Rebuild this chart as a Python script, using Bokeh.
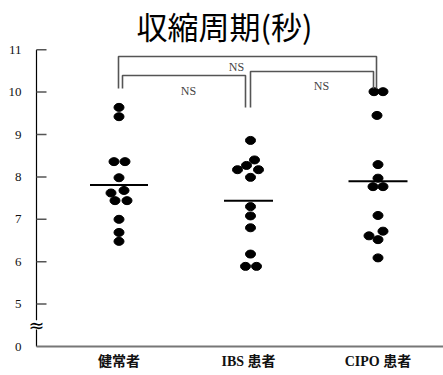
from bokeh.plotting import figure
from bokeh.models import ColumnDataSource, FixedTicker
from bokeh.core.properties import value
from bokeh.embed import file_html
from bokeh.resources import INLINE

# ---- data ----
categories = ["健常者", "IBS 患者", "CIPO 患者"]
healthy = [9.64, 9.42, 8.36, 8.36, 7.98, 7.68, 7.62, 7.44, 7.44, 7.00, 6.69, 6.48]
ibs = [8.86, 8.40, 8.27, 8.17, 8.17, 7.99, 7.30, 7.08, 6.80, 6.18, 5.89, 5.89]
cipo = [10.01, 10.01, 9.45, 8.29, 7.97, 7.77, 7.77, 7.09, 6.72, 6.61, 6.52, 6.09]
means = [7.81, 7.44, 7.90]
y_ticks = [4, 5, 6, 7, 8, 9, 10, 11]
y_tick_labels = ["0", "5", "6", "7", "8", "9", "10", "11"]
title_text = "収縮周期(秒)"
ns_text = "NS"

SERIF = "'Liberation Serif', 'Noto Sans CJK JP', serif"

# ---- layout helpers (pixels -> data along x) ----
UNIT = 129.5          # px per category step
def px2x(px):
    return 1 + (px - 118.5) / UNIT

AX = px2x(36)         # where the y axis is drawn
PX_PER_Y = 42.4
def px2y(py):
    return 4 + (346 - py) / PX_PER_Y

# horizontal jitter of the dots (layout, in pixels)
jitter_px = [
    [0, 0, -5, 6, 0, 5, -8, -4, 8, 0, 0, 0],
    [2, 6, -2, -11, 10, 2, 2, 2, 2, 2, -3, 8],
    [-4, 5, -1, 0, 0, -5, 5, 0, 5, -9, 0, 0],
]

groups = [healthy, ibs, cipo]
xs, ys = [], []
for i, (vals, jit) in enumerate(zip(groups, jitter_px)):
    for v, j in zip(vals, jit):
        xs.append(i + 1 + j / UNIT)
        ys.append(v)
src = ColumnDataSource(dict(x=xs, y=ys))

p = figure(width=443, height=375, output_backend="svg", toolbar_location=None,
           x_axis_type=None,
           x_range=(px2x(26), px2x(443)), y_range=(px2y(375), px2y(0)),
           min_border_left=26, min_border_right=0, min_border_top=0,
           min_border_bottom=0)
p.outline_line_color = None
p.grid.visible = False
p.background_fill_color = "white"

# y axis: labels from the axis, line & ticks drawn as glyphs
ya = p.yaxis[0]
ya.ticker = FixedTicker(ticks=y_ticks)
ya.major_label_overrides = {t: l for t, l in zip(y_ticks, y_tick_labels)}
ya.axis_line_color = None
ya.major_tick_line_color = None
ya.minor_tick_line_color = None
ya.major_tick_out = 0
ya.major_tick_in = 0
ya.major_label_text_font = SERIF
ya.major_label_text_font_size = "13px"
ya.major_label_text_color = "#111111"
ya.major_label_standoff = 5

brk_lo, brk_hi, brk_mid = 4.40, 4.62, 4.51
p.segment(x0=[AX, AX], x1=[AX, AX], y0=[y_ticks[0], brk_hi],
          y1=[brk_lo, y_ticks[-1]], line_color="black", line_width=1.2)
p.segment(x0=[AX] * len(y_ticks[1:]), x1=[AX + 10 / UNIT] * len(y_ticks[1:]),
          y0=y_ticks[1:], y1=y_ticks[1:], line_color="#555555", line_width=1.5)
p.text(x=[AX], y=[brk_mid], text=["≈"], text_font=value("DejaVu Sans"),
       text_font_size="19px", text_color="black", text_align="center",
       text_baseline="middle")

# x axis line & category labels
p.segment(x0=[AX], x1=[px2x(443)], y0=[y_ticks[0]], y1=[y_ticks[0]],
          line_color="#777777", line_width=2)
p.text(x=[1, 2, 3], y=[px2y(361)] * 3, text=categories,
       text_font=value(SERIF),
       text_font_style="bold", text_font_size="14px", text_color="#111111",
       text_align="center", text_baseline="middle")

# dots
p.ellipse(x="x", y="y", width=10, height=8, width_units="screen",
          height_units="screen", source=src, fill_color="black",
          line_color="black")

# mean lines
half_px = [29, 24.5, 29.5]
p.segment(x0=[i + 1 - h / UNIT for i, h in enumerate(half_px)],
          x1=[i + 1 + h / UNIT for i, h in enumerate(half_px)],
          y0=means, y1=means, line_color="black", line_width=2)

# significance brackets (annotation layout)
br_col = "#555555"
brackets = [
    ([px2x(118), px2x(118), px2x(376), px2x(376)], [px2y(88), px2y(56), px2y(56), px2y(88)]),
    ([px2x(122), px2x(122), px2x(245), px2x(245)], [px2y(88), px2y(75), px2y(75), px2y(107)]),
    ([px2x(250), px2x(250), px2x(373), px2x(373)], [px2y(107), px2y(71), px2y(71), px2y(88)]),
]
for bx, by in brackets:
    p.line(bx, by, line_color=br_col, line_width=1.6)

p.text(x=[px2x(236), px2x(188), px2x(321)], y=[px2y(66), px2y(90), px2y(85)],
       text=[ns_text] * 3, text_font=value(SERIF),
       text_font_size="12px", text_color="#444444", text_align="center",
       text_baseline="middle")

# title
p.text(x=[px2x(224)], y=[px2y(25)], text=[title_text],
       text_font=value("Noto Sans CJK JP"), text_font_size="31px",
       text_color="black", text_align="center", text_baseline="middle")

open("out.html", "w").write(file_html(p, INLINE))
